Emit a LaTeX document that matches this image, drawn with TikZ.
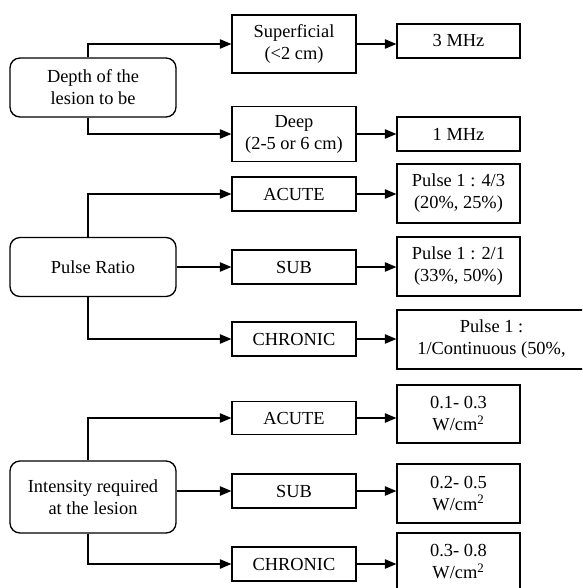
\documentclass[tikz,border=0pt]{standalone}
\usepackage{fontspec}
\setmainfont{Liberation Serif}
\usepackage{tikz}
\usetikzlibrary{arrows}

\begin{document}
\begin{tikzpicture}[x=0.75pt,y=-0.75pt,
  every node/.style={font=\fontsize{13.8}{16.5}\selectfont,align=center,inner sep=0pt},
  topic/.style={draw=black,line width=1pt,rounded corners=7.5pt,minimum width=124.5pt},
  kind/.style={draw=black,line width=1pt,minimum width=93pt},
  value/.style={draw=black,line width=1pt,minimum width=92.25pt}]
\useasboundingbox (0,0) rectangle (582,588);
\clip (0,0) rectangle (582,588);
\begin{scope}[>=triangle 45,line width=1pt]

    % depth of the lesion
    \node[topic,minimum height=44.25pt] (depth) at (93,87.5) {Depth of the\\lesion to be};
    \node[kind,minimum height=43.5pt] (sup) at (294,44) {Superficial\\(<2 cm)};
    \node[kind,minimum height=41.25pt] (deep) at (294,134) {Deep\\(2-5 or 6 cm)};
    \node[value,minimum height=25.5pt] (mhz3) at (458.5,41) {3 MHz};
    \node[value,minimum height=25.5pt] (mhz1) at (458.5,134) {1 MHz};

    \draw[->] ([xshift=-3.75pt]depth.north) |- (sup.west);
    \draw[->] ([xshift=-3.75pt]depth.south) |- (deep.west);
    \draw[->] (sup.east) -- (sup.east -| mhz3.west);
    \draw[->] (deep.east) -- (deep.east -| mhz1.west);

    % pulse ratio
    \node[topic,minimum height=44.25pt] (pulse) at (93,267) {Pulse Ratio};
    \node[kind,minimum height=25.5pt] (acute1) at (294,194) {ACUTE};
    \node[kind,minimum height=25.5pt] (sub1) at (294,267) {SUB};
    \node[kind,minimum height=25.5pt] (chron1) at (294,339) {CHRONIC};
    \node[value,minimum height=44.25pt] (pr43) at (458.5,193.5) {Pulse 1 : 4/3\\(20\%, 25\%)};
    \node[value,minimum height=44.25pt] (pr21) at (458.5,266.5) {Pulse 1 : 2/1\\(33\%, 50\%)};
    \node[value,minimum width=141.75pt,minimum height=44.25pt] (prc) at (491.5,339.5) {Pulse 1 :\\1/Continuous (50\%,};

    \draw[->] ([xshift=-3.75pt]pulse.north) |- (acute1.west);
    \draw[->] (pulse.east) -- (pulse.east -| sub1.west);
    \draw[->] ([xshift=-3.75pt]pulse.south) |- (chron1.west);
    \draw[->] (acute1.east) -- (acute1.east -| pr43.west);
    \draw[->] (sub1.east) -- (sub1.east -| pr21.west);
    \draw[->] (chron1.east) -- (chron1.east -| prc.west);

    % intensity
    \node[topic,minimum height=54pt] (intens) at (93,497) {Intensity required\\at the lesion};
    \node[kind,minimum height=24.75pt] (acute2) at (294,418) {ACUTE};
    \node[kind,minimum height=25.5pt] (sub2) at (294,491) {SUB};
    \node[kind,minimum height=25.5pt] (chron2) at (294,564) {CHRONIC};
    \node[value,minimum height=43.5pt] (w1) at (458.5,414) {0.1- 0.3\\W/cm\textsuperscript{2}};
    \node[value,minimum height=44.25pt] (w2) at (458.5,493.5) {0.2- 0.5\\W/cm\textsuperscript{2}};
    \node[value,minimum height=43.5pt] (w3) at (458.5,562) {0.3- 0.8\\W/cm\textsuperscript{2}};

    \draw[->] ([xshift=-3.75pt]intens.north) |- (acute2.west);
    \draw[->] (sub2.west -| intens.east) -- (sub2.west);
    \draw[->] ([xshift=-3.75pt]intens.south) |- (chron2.west);
    \draw[->] (acute2.east) -- (acute2.east -| w1.west);
    \draw[->] (sub2.east) -- (sub2.east -| w2.west);
    \draw[->] (chron2.east) -- (chron2.east -| w3.west);

\end{scope}
\end{tikzpicture}
\end{document}
